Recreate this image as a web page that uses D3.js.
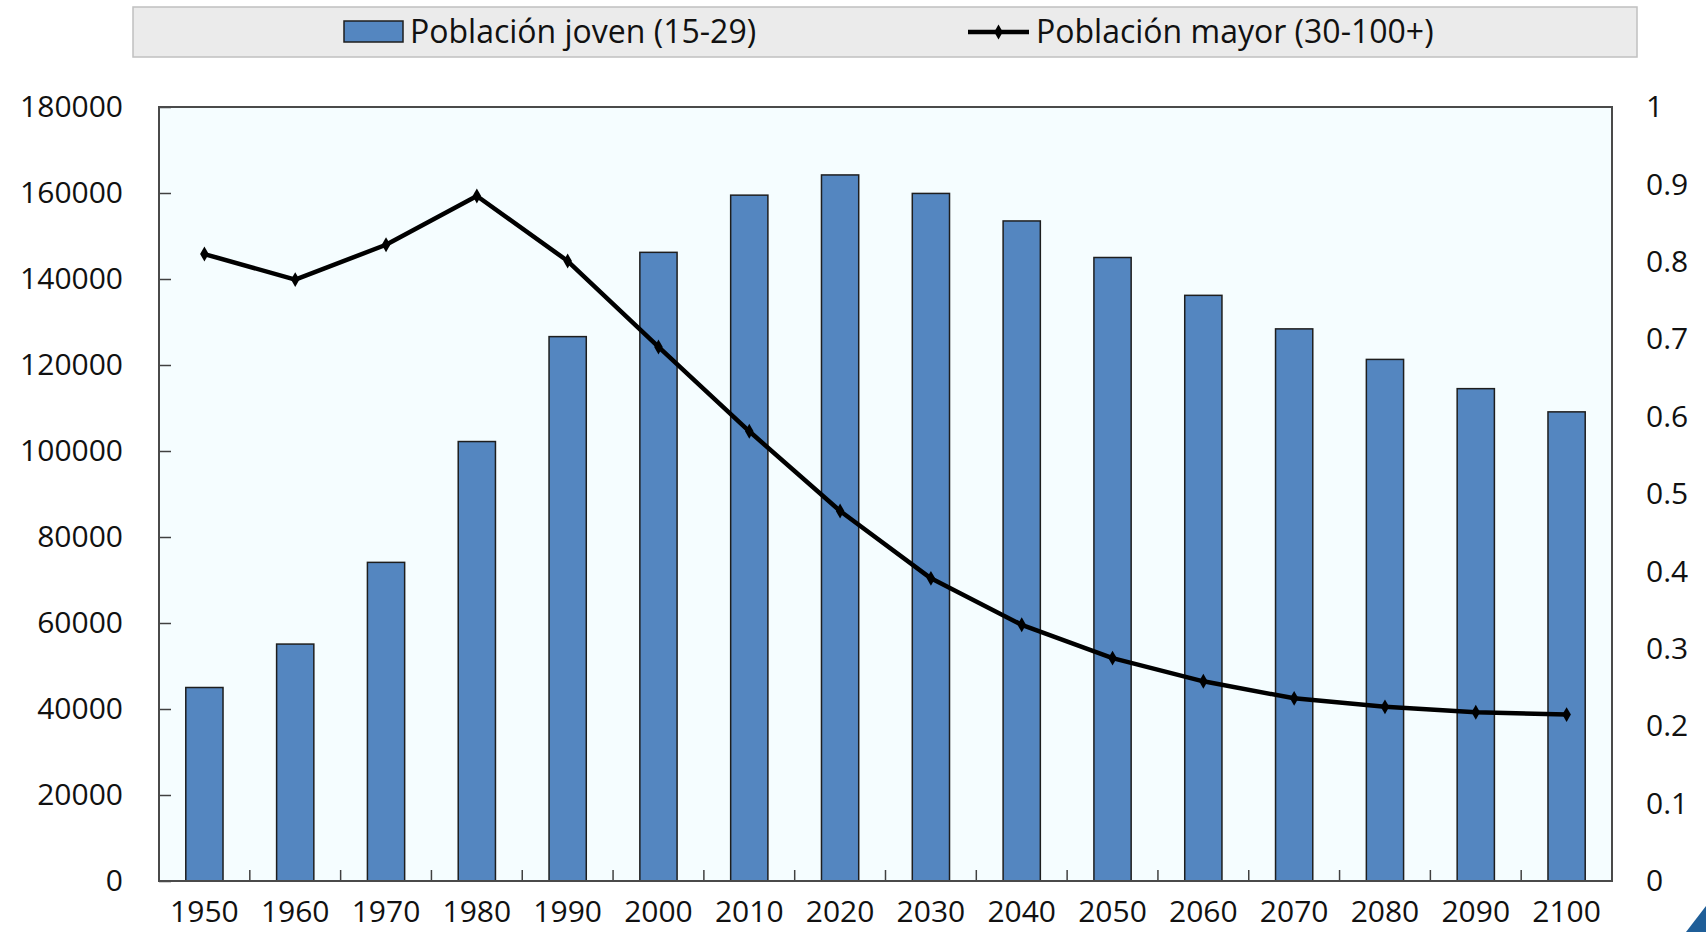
<!DOCTYPE html>
<html>
<head>
<meta charset="utf-8">
<script src="https://cdn.jsdelivr.net/npm/d3@7"></script>
<style>
  body { margin: 0; background: #fff; }
  svg { display: block; font-family: "Open Sans", sans-serif; }
</style>
</head>
<body>
<svg id="chart"></svg>
<script>
// data
const years = ["1950","1960","1970","1980","1990","2000","2010","2020","2030","2040","2050","2060","2070","2080","2090","2100"];
const youngPop = [45000, 55100, 74100, 102200, 126600, 146200, 159500, 164200, 159900, 153500, 145000, 136200, 128400, 121300, 114500, 109100];
const olderRatio = [0.810, 0.777, 0.822, 0.885, 0.801, 0.690, 0.581, 0.478, 0.391, 0.331, 0.288, 0.258, 0.236, 0.225, 0.218, 0.215];
const leftTicks = [0, 20000, 40000, 60000, 80000, 100000, 120000, 140000, 160000, 180000];
const rightTicks = [0, 0.1, 0.2, 0.3, 0.4, 0.5, 0.6, 0.7, 0.8, 0.9, 1];
const seriesNames = ["Población joven (15-29)", "Población mayor (30-100+)"];

const W = 1706, H = 932;
const plot = { left: 159, right: 1612, top: 107, bottom: 881 };
const barColor = "#5486c0", fontSize = 30, legendFont = 32;

const svg = d3.select("#chart").attr("width", W).attr("height", H);

const x = d3.scaleBand().domain(years).range([plot.left, plot.right]).padding(0);
const y = d3.scaleLinear().domain([0, 180000]).range([plot.bottom, plot.top]);
const y2 = d3.scaleLinear().domain([0, 1]).range([plot.bottom, plot.top]);
const barW = x.bandwidth() * 0.41;

// plot background
svg.append("rect")
    .attr("x", plot.left).attr("y", plot.top)
    .attr("width", plot.right - plot.left).attr("height", plot.bottom - plot.top)
    .attr("fill", "#f5fdff");

// bars
svg.append("g").selectAll("rect")
    .data(years)
    .enter().append("rect")
      .attr("x", (d) => x(d) + (x.bandwidth() - barW) / 2)
      .attr("y", (d, i) => y(youngPop[i]))
      .attr("width", barW)
      .attr("height", (d, i) => plot.bottom - y(youngPop[i]))
      .attr("fill", barColor)
      .attr("stroke", "#1e1e1e")
      .attr("stroke-width", 1.5);

// left axis, ticks pointing inward
const gY = svg.append("g")
    .attr("transform", "translate(" + plot.left + ",0)")
    .call(d3.axisLeft(y).tickValues(leftTicks).tickSize(-12).tickPadding(36).tickFormat(d3.format("d")));
gY.select(".domain").remove();

// right axis, no ticks
const gY2 = svg.append("g")
    .attr("transform", "translate(" + plot.right + ",0)")
    .call(d3.axisRight(y2).tickValues(rightTicks).tickSize(0).tickPadding(34).tickFormat((d) => d3.format("")(+d.toFixed(1))));
gY2.select(".domain").remove();

// bottom axis, labels at band centres
const gX = svg.append("g")
    .attr("transform", "translate(0," + plot.bottom + ")")
    .call(d3.axisBottom(x).tickSize(0).tickPadding(20));
gX.select(".domain").remove();

// category separator ticks
svg.append("g").selectAll("line")
    .data(years.slice(1))
    .enter().append("line")
      .attr("x1", (d) => x(d)).attr("x2", (d) => x(d))
      .attr("y1", plot.bottom).attr("y2", plot.bottom - 11)
      .attr("stroke", "#404040").attr("stroke-width", 1.5);

[gY, gY2, gX].forEach((g) => {
  g.attr("font-family", null).attr("font-size", null);
  g.selectAll("text").style("font-size", fontSize + "px").attr("fill", "#111");
  g.selectAll("line").attr("stroke", "#404040").attr("stroke-width", 1.5);
});

// plot border
svg.append("rect")
    .attr("x", plot.left).attr("y", plot.top)
    .attr("width", plot.right - plot.left).attr("height", plot.bottom - plot.top)
    .attr("fill", "none").attr("stroke", "#4a4a4a").attr("stroke-width", 2);

// line series on right axis
const line = d3.line()
    .x((d, i) => x(years[i]) + x.bandwidth() / 2)
    .y((d) => y2(d));

svg.append("path")
    .datum(olderRatio)
    .attr("d", line)
    .attr("fill", "none")
    .attr("stroke", "#000")
    .attr("stroke-width", 4.5)
    .attr("stroke-linejoin", "round");

const diamond = d3.symbol().type(d3.symbolDiamond).size(64);
svg.append("g").selectAll("path")
    .data(olderRatio)
    .enter().append("path")
      .attr("d", diamond)
      .attr("transform", (d, i) => "translate(" + (x(years[i]) + x.bandwidth() / 2) + "," + y2(d) + ")")
      .attr("fill", "#000");

// legend
const legend = svg.append("g");
legend.append("rect")
    .attr("x", 133).attr("y", 7).attr("width", 1504).attr("height", 50)
    .attr("fill", "#ebebeb").attr("stroke", "#c0c0c0").attr("stroke-width", 1.5);
legend.append("rect")
    .attr("x", 344).attr("y", 21).attr("width", 59).attr("height", 21)
    .attr("fill", barColor).attr("stroke", "#1e1e1e").attr("stroke-width", 1.5);
legend.append("text")
    .attr("x", 410).attr("y", 32).attr("dy", "0.35em")
    .style("font-size", legendFont + "px").attr("fill", "#111")
    .text(seriesNames[0]);
legend.append("line")
    .attr("x1", 968).attr("x2", 1029).attr("y1", 32).attr("y2", 32)
    .attr("stroke", "#000").attr("stroke-width", 4.5);
legend.append("path")
    .attr("d", diamond).attr("transform", "translate(998.5,32)").attr("fill", "#000");
legend.append("text")
    .attr("x", 1036).attr("y", 32).attr("dy", "0.35em")
    .style("font-size", legendFont + "px").attr("fill", "#111")
    .text(seriesNames[1]);

// corner mark
svg.append("path")
    .attr("d", "M1686,932L1706,906L1706,932Z")
    .attr("fill", "#1f5e98");
</script>
</body>
</html>
